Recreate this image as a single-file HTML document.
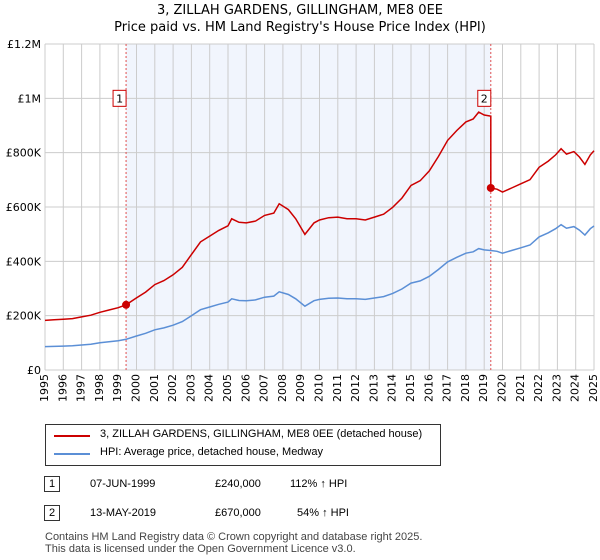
<!DOCTYPE html>
<html><head><meta charset="utf-8"><style>
body{margin:0;background:#fff;font-family:"Liberation Sans","DejaVu Sans",sans-serif;}
#wrap{position:relative;width:600px;height:560px;overflow:hidden}
.t{position:absolute;font-size:11px;color:#000;white-space:nowrap}
</style></head><body>
<div id="wrap">
<svg id="svg" width="600" height="560" style="position:absolute;left:0;top:0"></svg>
<div class="t" style="left:0;width:600px;text-align:center;top:3px;font-size:13px;font-family:'DejaVu Sans',sans-serif">3, ZILLAH GARDENS, GILLINGHAM, ME8 0EE</div>
<div class="t" style="left:0;width:600px;text-align:center;top:20px;font-size:13px;font-family:'DejaVu Sans',sans-serif">Price paid vs. HM Land Registry's House Price Index (HPI)</div>
<div style="position:absolute;left:45px;top:424px;width:394px;height:40px;border:1px solid #333">
 <div style="position:absolute;left:8px;top:10px;width:36px;height:2px;background:#cc0000"></div>
 <div class="t" style="left:54px;top:3px">3, ZILLAH GARDENS, GILLINGHAM, ME8 0EE (detached house)</div>
 <div style="position:absolute;left:8px;top:28px;width:36px;height:2px;background:#5b8fd6"></div>
 <div class="t" style="left:54px;top:21px">HPI: Average price, detached house, Medway</div>
</div>
<div class="t" style="left:44px;top:476px;border:1px solid #333;padding:1px 4px">1</div>
<div class="t" style="left:90px;top:478px">07-JUN-1999</div>
<div class="t" style="left:215px;top:478px">£240,000</div>
<div class="t" style="left:290px;top:478px">112% ↑ HPI</div>
<div class="t" style="left:44px;top:505px;border:1px solid #333;padding:1px 4px">2</div>
<div class="t" style="left:90px;top:507px">13-MAY-2019</div>
<div class="t" style="left:215px;top:507px">£670,000</div>
<div class="t" style="left:297px;top:507px">54% ↑ HPI</div>
<div class="t" style="left:45px;top:531px;color:#444">Contains HM Land Registry data © Crown copyright and database right 2025.</div>
<div class="t" style="left:45px;top:543px;color:#444">This data is licensed under the Open Government Licence v3.0.</div>
</div>
<script>
const hpiYears=[1995,1995.5,1996,1996.5,1997,1997.5,1998,1998.5,1999,1999.43,2000,2000.5,2001,2001.5,2002,2002.5,2003,2003.5,2004,2004.5,2005,2005.2,2005.6,2006,2006.5,2007,2007.5,2007.8,2008.3,2008.7,2009.2,2009.7,2010,2010.5,2011,2011.5,2012,2012.5,2013,2013.5,2014,2014.5,2015,2015.5,2016,2016.5,2017,2017.5,2018,2018.4,2018.7,2019,2019.36,2019.7,2020,2020.5,2021,2021.5,2022,2022.5,2022.9,2023.2,2023.5,2023.9,2024.2,2024.5,2024.8,2025];
const hpiValues=[86,87,88,89,92,95,100,104,108,113,125,135,148,155,165,178,200,222,232,242,250,262,256,255,258,268,272,288,278,262,235,255,260,264,265,262,262,260,265,270,282,298,320,328,345,370,398,415,430,435,447,442,440,437,430,440,450,460,490,505,520,535,522,528,515,497,520,530];
const sales=[{year:1999.43,price:240,label:"1"},{year:2019.36,price:670,label:"2"}];
const yTicks=[0,200,400,600,800,1000,1200];
const yLabels=["£0","£200K","£400K","£600K","£800K","£1M","£1.2M"];
const xTicks=[1995,1996,1997,1998,1999,2000,2001,2002,2003,2004,2005,2006,2007,2008,2009,2010,2011,2012,2013,2014,2015,2016,2017,2018,2019,2020,2021,2022,2023,2024,2025];

const L=45,R=594,T=44,B=370;
const FF='DejaVu Sans, sans-serif';
const x=v=>L+(v-1995)/30*(R-L);
const y=v=>B-v/1200*(B-T);
const svg=document.getElementById('svg');
const NS='http://www.w3.org/2000/svg';
function mk(tag,attrs,parent){const e=document.createElementNS(NS,tag);for(const k in attrs)e.setAttribute(k,attrs[k]);(parent||svg).appendChild(e);return e;}
const shade=mk('rect',{x:x(sales[0].year),y:T,width:x(sales[1].year)-x(sales[0].year),height:B-T,fill:'#eef3fd',opacity:0.8});


xTicks.forEach((t,i)=>{
 const g=mk('line',{x1:x(t),x2:x(t),y1:T,y2:B,stroke:'#ccc','stroke-width':1});
 
 
 const tx=mk('text',{x:0,y:0,'font-size':11,'text-anchor':'end','dominant-baseline':'middle',transform:`translate(${x(t)},${B+4}) rotate(-90)`,'font-family':FF});
 tx.textContent=t;
 
 
});
yTicks.forEach((t,i)=>{
 const g=mk('line',{x1:L,x2:R,y1:y(t),y2:y(t),stroke:'#ccc','stroke-width':1});
 
 
 const tx=mk('text',{x:L-4,y:y(t)+4,'font-size':11,'text-anchor':'end','font-family':FF});
 tx.textContent=yLabels[i];
 
 
});
sales.forEach(s=>{
 const l=mk('line',{x1:x(s.year),x2:x(s.year),y1:T,y2:B,stroke:'#e05050','stroke-width':1,'stroke-dasharray':'2,2'});
 
 
 const bx=mk('rect',{x:x(s.year)-13,y:y(1000)-8,width:13,height:16,fill:'#fff',stroke:'#cc0000'});
 
 
 const tx=mk('text',{x:x(s.year)-6.5,y:y(1000)+4,'font-size':11,'text-anchor':'middle','font-family':FF});
 tx.textContent=s.label;
 
 
});
function hpiAt(yr){for(let i=1;i<hpiYears.length;i++){if(yr<=hpiYears[i]){const f=(yr-hpiYears[i-1])/(hpiYears[i]-hpiYears[i-1]);return hpiValues[i-1]+f*(hpiValues[i]-hpiValues[i-1]);}}return hpiValues[hpiValues.length-1];}
const bp=hpiYears.map((yr,i)=>`${i?'L':'M'}${x(yr).toFixed(1)},${y(hpiValues[i]).toFixed(1)}`).join('');
const blue=mk('path',{d:bp,fill:'none',stroke:'#5b8fd6','stroke-width':1.5});


const r1=sales[0].price/hpiAt(sales[0].year), r2=sales[1].price/hpiAt(sales[1].year);
let rp='';
hpiYears.forEach((yr,i)=>{
 if(yr<sales[1].year) rp+=`${rp?'L':'M'}${x(yr).toFixed(1)},${y(hpiValues[i]*r1).toFixed(1)}`;
});
rp+=`L${x(sales[1].year).toFixed(1)},${y(hpiAt(sales[1].year)*r1).toFixed(1)}L${x(sales[1].year).toFixed(1)},${y(sales[1].price).toFixed(1)}`;
hpiYears.forEach((yr,i)=>{ if(yr>sales[1].year) rp+=`L${x(yr).toFixed(1)},${y(hpiValues[i]*r2).toFixed(1)}`;});
const red=mk('path',{d:rp,fill:'none',stroke:'#cc0000','stroke-width':1.5});


sales.forEach(s=>{
 const c=mk('circle',{cx:x(s.year),cy:y(s.price),r:4,fill:'#cc0000'});
 
 
});
</script>
</body></html>
